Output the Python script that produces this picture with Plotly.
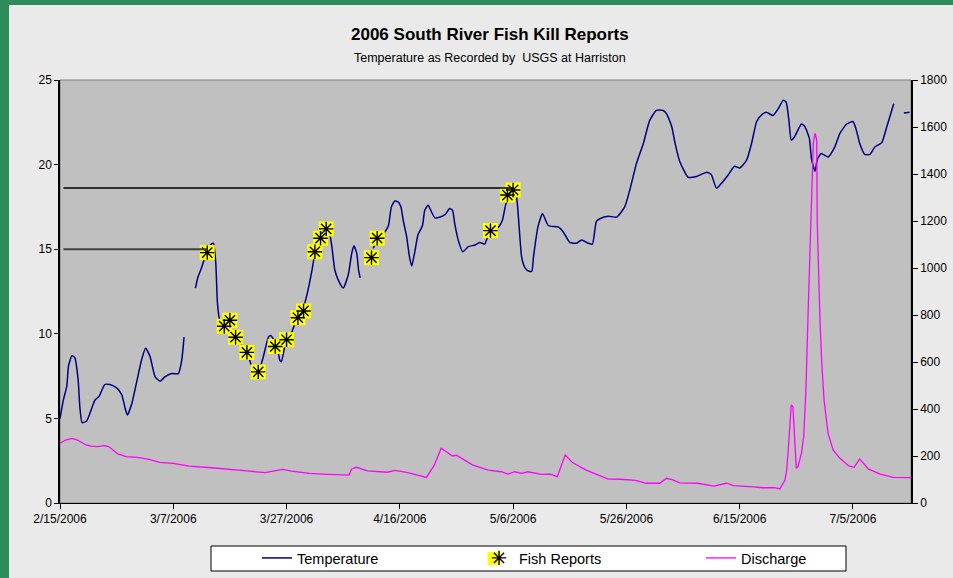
import pandas as pd
import plotly.graph_objects as go

# ---------------- data ----------------
start_date = "2006-02-15"

# temperature (deg C) ; day offsets from start_date, None = gap in record
temp_day = [0, 0.6, 1.2, 1.5, 2.1, 2.6, 3.2, 3.5, 3.9, 4.7, 5.6, 6.2, 6.9, 7.9, 8.8, 10, 10.9, 11.5, 11.9,
            12.7, 13.5, 14.4, 15.1, 15.9, 16.8, 17.7, 18.5, 19.7, 20.9, 21.5, 21.9, 22.9,
            23.9, 24.4, 25, 25.9, 26.7, 27.1, 27.5, 27.8, 28.2, 29.1, 30.9, 33, 33.8, 35, 35.9, 36.8, 37.2,
            38.3, 38.8, 39.1, 39.7, 40.6, 41.5, 42.4, 43.2, 43.8, 44.4, 45, 45.6, 46.5, 47.4, 48, 48.5,
            49.1, 50, 50.9, 51.5, 51.9, 52.4, 52.7, 53, 54,
            55.3, 56.2, 57.4, 58, 58.5, 59.1, 59.7, 60.2, 60.6, 61.2, 61.7, 62.1, 62.7, 63.2, 64, 64.4,
            65, 65.6, 66.2, 67.1, 68, 68.8, 69.3, 69.7, 70.3, 71.1, 72.1, 73.3, 74.1, 75, 75.3, 76,
            77.4, 78.1, 78.6, 79.1, 80, 80.6, 81.1, 81.5, 82.1, 82.8, 83.3, 83.6, 84.4, 85.2, 86.2, 88,
            88.8, 90, 91.2, 92.1, 93.3, 94, 94.7, 95.3, 96.8, 98.3, 99.7, 100.6, 101.8, 103, 104.1,
            105.3, 106.5, 107.1, 108, 108.6, 109.4, 110.9, 112.4, 114.2, 115, 115.9, 116.8, 118, 119.1,
            120, 121.2, 122.1, 123, 123.9, 124.7, 125.9, 126.8, 127.7, 128.2, 128.7, 129.1, 129.7,
            130.9, 131.5, 132.3, 132.7, 133.3, 133.7, 134.4, 135.6, 136.8, 137.7, 138.9, 140, 140.6,
            141.2, 142.1, 143, 143.9, 145.1, 145.9, 147.2, 148, 149, 150]
temp_val = [5.0, 6.1, 6.9, 8.1, 8.7, 8.6, 7.3, 5.7, 4.75, 4.85, 5.6, 6.1, 6.3, 7.0, 7.0, 6.8, 6.4, 5.6, 5.2,
            5.9, 7.1, 8.45, 9.15, 8.65, 7.45, 7.2, 7.45, 7.65, 7.65, 8.45, 9.8, None,
            12.7, 13.4, 13.9, 14.85, 15.3, 15.35, 14.2, 11.8, 10.8, 10.4, 9.8, 8.95, 8.15, 7.75, 8.65, 9.8, 9.9,
            9.3, 8.45, 8.35, 9.25, 9.8, 10.6, 11.0, 11.8, 12.6, 13.6, 14.75, 15.55, 16.05, 16.15, 15.15, 13.8,
            13.2, 12.7, 13.5, 14.75, 15.2, 14.75, 13.8, 13.3, None,
            15.05, 15.7, 16.05, 16.4, 17.5, 17.85, 17.8, 17.5, 16.7, 15.75, 14.55, 14.0, 14.95, 15.85, 16.4, 17.3,
            17.6, 17.2, 16.85, 16.9, 17.05, 17.4, 17.3, 16.5, 15.55, 14.85, 15.15, 15.25, 15.4, 15.3, 15.55, 16.0,
            16.3, 16.7, 17.5, 18.1, 18.55, 18.1, 16.15, 14.55, 13.9, 13.7, 13.7, 14.55, 16.35, 17.1, 16.4, 16.3,
            16.05, 15.4, 15.35, 15.55, 15.35, 15.3, 16.65, 16.8, 16.95, 16.9, 17.5, 18.5, 20.1, 21.25, 22.6,
            23.2, 23.2, 23.0, 22.25, 21.25, 20.2, 19.25, 19.3, 19.55, 19.4, 18.6, 18.9, 19.4, 19.9,
            19.8, 20.25, 21.25, 22.55, 22.95, 23.1, 22.9, 23.3, 23.8, 23.7, 22.6, 21.45, 21.65,
            22.4, 22.25, 21.55, 20.3, 19.6, 20.3, 20.65, 20.45, 21.05, 21.85, 22.4, 22.55, 22.05,
            21.25, 20.6, 20.6, 21.05, 21.3, 22.15, 23.6, None, 23.05, 23.1]

# discharge (cfs) ; day offsets from start_date
dis_day = [0, 1, 2.1, 3.1, 4.6, 5.5, 6.6, 7.8, 8.6, 10.2, 11.7, 13.7, 15.7, 17.6, 20, 22.8, 26.7, 30.6, 33,
           36.2, 37.7, 39.3, 40.9, 44, 46.4, 48.8, 51, 51.5, 52.3, 54.3, 56.6, 57.8, 59.2, 61.4, 64.7, 66.1,
           67.3, 68.5, 69.3, 70, 72.8, 75.6, 77.9, 79.1, 80.3, 81.5, 82.6, 85, 86.6, 87.8, 88.6, 89.2, 90.5,
           92.9, 96.8, 99, 101.6, 103.5, 105.9, 107.1, 108.2, 109.4, 112.6, 115.4, 117.7, 118.9, 122.4, 124,
           126.2, 127.1, 128, 128.3, 128.7, 129.1, 129.4, 129.7, 130, 130.3, 130.9, 131.3, 131.7, 132.1,
           132.4, 132.7, 133, 133.3, 133.6, 133.7, 134, 134.2, 134.5, 134.9, 135.6, 136.5, 137.7, 139.2,
           140.2, 141.2, 142.7, 144.8, 147.1, 150.3]
dis_val = [254, 268, 275, 268, 247, 242, 240, 244, 240, 209, 197, 194, 186, 173, 169, 157, 150, 140, 137,
           129, 135, 143, 136, 126, 123, 122, 119, 145, 152, 137, 131, 131, 139, 129, 109, 162,
           233, 214, 200, 203, 162, 140, 133, 123, 133, 126, 133, 122, 123, 112, 169, 204, 172,
           140, 102, 101, 96, 84, 84, 105, 98, 86, 84, 72, 84, 74, 69, 65,
           65, 60, 98, 140, 268, 417, 410, 254, 148, 155, 211, 282, 481, 821,
           1048, 1332, 1531, 1573, 1545, 1190, 906, 765, 594, 438, 297, 226, 190, 159,
           152, 187, 145, 123, 109, 108]

# fish kill reports (date, water temperature at report)
fish_dates = ["2006-03-13", "2006-03-16", "2006-03-17", "2006-03-18", "2006-03-20", "2006-03-22",
              "2006-03-25", "2006-03-27", "2006-03-29", "2006-03-30", "2006-04-01", "2006-04-02",
              "2006-04-03", "2006-04-11", "2006-04-12", "2006-05-02", "2006-05-05", "2006-05-06"]
fish_temp = [14.8, 10.45, 10.8, 9.8, 8.9, 7.75, 9.25, 9.65, 10.95, 11.35, 14.85, 15.65,
             16.2, 14.5, 15.65, 16.1, 18.2, 18.5]

# threshold lines drawn on the chart (temperature levels)
ref_levels = [15.0, 18.62]

x_tick_dates = ["2006-02-15", "2006-03-07", "2006-03-27", "2006-04-16",
                "2006-05-06", "2006-05-26", "2006-06-15", "2006-07-05"]
x_tick_labels = ["2/15/2006", "3/7/2006", "3/27/2006", "4/16/2006",
                 "5/6/2006", "5/26/2006", "6/15/2006", "7/5/2006"]

# ---------------- build ----------------
base = pd.Timestamp(start_date)
temp_x = base + pd.to_timedelta(temp_day, unit="D")
dis_x = base + pd.to_timedelta(dis_day, unit="D")
x_end = base + pd.Timedelta(days=150.25)

FONT = "Liberation Sans, Arial, sans-serif"

fig = go.Figure()

fig.add_trace(go.Scatter(
    x=temp_x, y=temp_val, mode="lines", name="Temperature",
    line=dict(color="#000080", width=1.5, shape="spline", smoothing=0.5),
    connectgaps=False))

fig.add_trace(go.Scatter(
    x=pd.to_datetime(fish_dates), y=fish_temp, mode="markers", showlegend=False,
    marker=dict(symbol="square", size=15, color="#FFFF00", line=dict(width=0))))

fig.add_trace(go.Scatter(
    x=pd.to_datetime(fish_dates), y=fish_temp, mode="markers", name="Fish Reports",
    marker=dict(symbol="asterisk", size=12, color="black", line=dict(color="black", width=1.4))))

fig.add_trace(go.Scatter(
    x=dis_x, y=dis_val, mode="lines", name="Discharge", yaxis="y2",
    line=dict(color="#FF00FF", width=1.3)))

# threshold lines
ref_start = base + pd.Timedelta(days=0.6)
ref_ends = [pd.Timestamp(fish_dates[0]), pd.Timestamp(fish_dates[-1])]
ref_styles = [dict(color="#404040", width=2), dict(color="black", width=1.5)]
for lvl, xe, st in zip(ref_levels, ref_ends, ref_styles):
    fig.add_shape(type="line", xref="x", yref="y", x0=ref_start, x1=xe, y0=lvl, y1=lvl,
                  line=st, layer="above")

# ---------------- layout geometry ----------------
W, H = 953, 578
L, R, T, B = 60, 42, 80, 75
pw, ph = W - L - R, H - T - B


def px(x):
    return (x - L) / pw


def py(y):
    return (H - B - y) / ph


GREEN = "#2E8B5C"
# green frame strips (left and top)
fig.add_shape(type="rect", xref="paper", yref="paper", x0=px(-20), x1=px(9), y0=py(H + 20), y1=py(-20),
              fillcolor=GREEN, line=dict(width=0), layer="below")
fig.add_shape(type="rect", xref="paper", yref="paper", x0=px(-20), x1=px(W + 20), y0=py(5), y1=py(-20),
              fillcolor=GREEN, line=dict(width=0), layer="below")
# plot area
fig.add_shape(type="rect", xref="paper", yref="paper", x0=0, x1=1, y0=0, y1=1,
              fillcolor="#C0C0C0", line=dict(color="#808080", width=1), layer="below")
# legend box
fig.add_shape(type="rect", xref="paper", yref="paper", x0=px(211), x1=px(846), y0=py(571), y1=py(546),
              fillcolor="white", line=dict(color="black", width=1), layer="below")
# yellow background for fish legend symbol
fig.add_shape(type="rect", xref="paper", yref="paper", x0=px(487.5), x1=px(500.5), y0=py(565), y1=py(552),
              fillcolor="#FFFF00", line=dict(width=0), layer="below")

fig.add_annotation(text="<b>2006 South River Fish Kill Reports</b>", xref="paper", yref="paper",
                   x=px(489.5), y=py(34), xanchor="center", yanchor="middle", showarrow=False,
                   font=dict(family=FONT, size=17, color="black"))
fig.add_annotation(text="Temperature as Recorded by  USGS at Harriston", xref="paper", yref="paper",
                   x=px(490), y=py(58.5), xanchor="center", yanchor="middle", showarrow=False,
                   font=dict(family=FONT, size=12.5, color="black"))

fig.update_layout(
    width=W, height=H, autosize=False,
    margin=dict(l=L, r=R, t=T, b=B, pad=0, autoexpand=False),
    paper_bgcolor="#EAEAEA",
    plot_bgcolor="rgba(0,0,0,0)",
    font=dict(family=FONT, size=12, color="black"),
    showlegend=True,
    legend=dict(orientation="h", xref="container", yref="container",
                x=257 / W, xanchor="left", y=(H - 558) / H, yanchor="middle",
                bgcolor="rgba(0,0,0,0)", borderwidth=0, entrywidth=177, entrywidthmode="pixels",
                font=dict(family=FONT, size=14.5, color="black"), traceorder="normal"),
    xaxis=dict(type="date", range=[base, x_end], tickvals=pd.to_datetime(x_tick_dates),
               ticktext=x_tick_labels, ticks="outside", ticklen=5, tickcolor="black",
               showline=True, linecolor="black", linewidth=1, showgrid=False, zeroline=False,
               automargin=False, tickfont=dict(family=FONT, size=12, color="black")),
    yaxis=dict(range=[0, 25], dtick=5, ticks="outside", ticklen=4, tickcolor="black",
               showline=True, linecolor="black", linewidth=1.5, showgrid=False, zeroline=False,
               automargin=False, tickfont=dict(family=FONT, size=12, color="black")),
    yaxis2=dict(range=[0, 1800], dtick=200, overlaying="y", side="right", ticks="outside",
                ticklen=5, tickcolor="black", showline=True, linecolor="black", linewidth=1.5,
                showgrid=False, zeroline=False, automargin=False,
                tickfont=dict(family=FONT, size=12, color="black")),
)

fig.write_html(
    "out.html",
    config={"displayModeBar": False},
    post_script=("document.documentElement.style.margin='0';document.body.style.margin='0';"
                 "document.documentElement.style.overflow='hidden';document.body.style.overflow='hidden';"),
)
